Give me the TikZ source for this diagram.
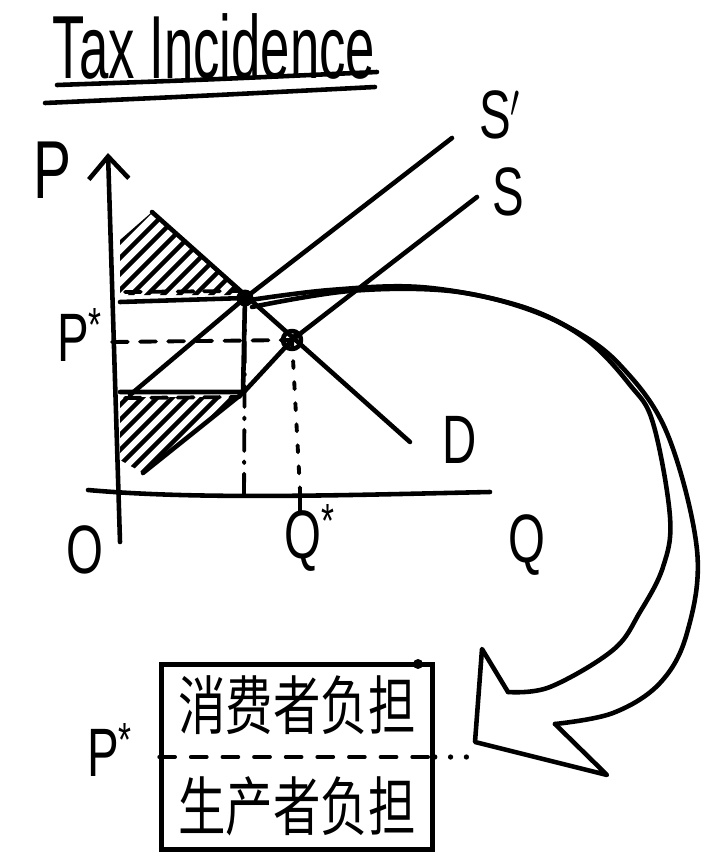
\documentclass[tikz,border=0pt]{standalone}
\usepackage{fontspec}
\setmainfont{Liberation Sans}
\newfontfamily\cjk{Noto Sans CJK SC}
\usetikzlibrary{arrows.meta,positioning}

\tikzset{
  ink/.style={line width=2.6pt, line cap=round, line join=round},
  thinink/.style={line width=2.2pt, line cap=round},
  hatchline/.style={line width=2.6pt, line cap=round},
  lbl/.style={inner sep=0pt, font=\fontsize{30}{30}\selectfont},
  cjklbl/.style={inner sep=0pt, font=\cjk\fontsize{27}{27}\selectfont},
}
\newcommand{\tallbox}[1]{\scalebox{0.9}[1.3]{#1}}

\begin{document}
\begin{tikzpicture}[x=0.02cm,y=-0.02cm]
\useasboundingbox (0,0) rectangle (718,865);

% title
\node[lbl, font=\fontsize{30}{30}\selectfont] (title) at (214,46) {\scalebox{1}[1.7]{Tax Incidence}};
\draw[ink] (57,85) .. controls (200,80) .. (377,72);
\draw[ink] (45,103) .. controls (200,96) .. (375,87);

% points
\coordinate (E1) at (245,298);
\coordinate (E0) at (292,340);
\coordinate (headtip) at (475,742);

% hatching
\begin{scope}
\clip (120,240) -- (152,212) -- (245,295) -- (120,295) -- cycle;
\foreach \a in {30,46,...,270} \draw[hatchline] (\a,300) -- ++(110,-110);
\end{scope}
\begin{scope}
\clip (120,397) -- (240,397) -- (143,473) -- (120,460) -- cycle;
\foreach \a in {30,45,...,260} \draw[hatchline] (\a,480) -- ++(110,-110);
\end{scope}

% axes
\draw[ink, -{Straight Barb[length=4.5mm,width=8mm]}] (120,542) -- (108,153);
\draw[ink] (88,490) .. controls (200,500) and (350,495) .. (490,492);

% curves
\draw[ink] (130,395) -- (E1) -- (452,138);
\draw[ink] (143,473) -- (243,393) -- (E0) -- (477,197);
\draw[ink] (152,212) -- (410,442);

% tax wedge
\draw[ink] (120,302) -- (E1) -- (243,392) -- (120,392);
\draw[thinink, dash pattern=on 9pt off 6pt] (125,292) -- (240,291);
\draw[thinink, dash pattern=on 9pt off 6pt] (125,398) -- (240,397);
\draw[thinink, dash pattern=on 9pt off 7pt] (112,342) -- (E0);
\draw[thinink, dash pattern=on 12pt off 6pt on 1pt off 6pt] (E1) -- (244,495);
\draw[thinink, dash pattern=on 4pt off 8pt] (E0) -- (300,490);
\draw[ink] (300,490) -- (300,512);

% equilibria
\fill (E1) circle[radius=0.17cm];
\draw[ink] (E0) circle[radius=0.18cm];
\draw[ink] (E0) ++(-5,7) -- ++(10,-14);

% labels
\node[lbl, font=\fontsize{36}{36}\selectfont] (plabel) at (52,170) {\tallbox{P}};
\node[lbl] (pstar) at (80,335) {\tallbox{P\textsuperscript{*}}};
\node[lbl] (olabel) at (85,550) {\tallbox{O}};
\node[lbl] (qstar) at (310,538) {\tallbox{Q\textsuperscript{*}}};
\node[lbl] (qlabel) at (527,545) {\tallbox{Q}};
\node[lbl] (dlabel) at (460,440) {\tallbox{D}};
\node[lbl] (sprime) at (500,115) {\tallbox{S$'$}};
\node[lbl] (slabel) at (508,192) {\tallbox{S}};

% big arrow
\draw[ink] plot[smooth, tension=0.6] coordinates {(250,300) (330,290) (420,287) (510,303) (570,328) (620,365) (667,433) (697,550) (687,633) (660,683) (613,713) (555,724)};
\draw[ink] plot[smooth, tension=0.6] coordinates {(252,307) (350,291) (450,291) (530,310) (587,340) (630,385) (653,423) (670,517) (663,567) (640,612) (613,650) (550,687) (508,692)};
\draw[ink] (508,692) -- (482,649) -- (headtip) -- (607,775) -- (555,724);

% burden box
\node[draw, line width=2.6pt, minimum width=5.42cm, minimum height=3.7cm, inner sep=0pt] (burden) at (297,757) {};
\fill (418,664) circle[radius=0.1cm];
\node[cjklbl] (consumer) at (297,705) {\scalebox{1}[1.35]{消费者负担}};
\node[cjklbl] (producer) at (297,806) {\scalebox{1}[1.35]{生产者负担}};
\draw[thinink, dash pattern=on 9pt off 9pt] (burden.west) -- (burden.east);
\coordinate (dotend) at (headtip |- burden.east);
\draw[line width=3pt, line cap=round, dash pattern=on 0pt off 9pt] (burden.east) -- (dotend);
\node[lbl] (pbox) at (110,750) {\tallbox{P\textsuperscript{*}}};
\end{tikzpicture}
\end{document}
